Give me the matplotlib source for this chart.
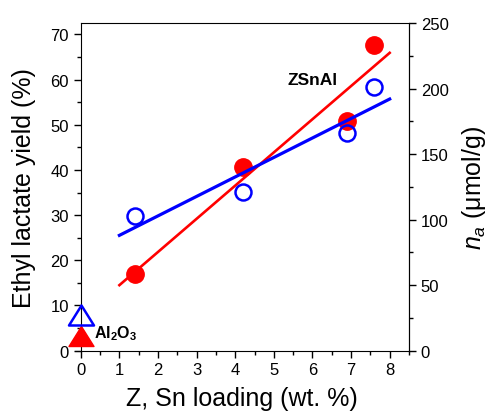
import matplotlib
matplotlib.use('Agg')
import matplotlib.pyplot as plt
from matplotlib.path import Path
from matplotlib.ticker import MultipleLocator

plt.rcParams['font.family'] = ['Liberation Sans', 'DejaVu Sans']
plt.rcParams['mathtext.fontset'] = 'custom'
plt.rcParams['mathtext.it'] = 'Liberation Sans:italic'
plt.rcParams['mathtext.rm'] = 'Liberation Sans'
plt.rcParams['mathtext.bf'] = 'Liberation Sans:bold'

# --- data
sn_loading = [1.4, 4.2, 6.9, 7.6]
yield_el = [17.0, 40.6, 50.9, 67.7]      # left axis, %
n_a = [103, 121, 166, 201]               # right axis, umol/g
al2o3_x = [0]
al2o3_yield = [3.2]
al2o3_na = [27]
fit_x = [1, 8]
fit_yield = [14.5, 65.9]
fit_na = [88, 192]

fig = plt.figure(figsize=(4.92, 4.14), dpi=100)
ax = fig.add_axes([0.1524, 0.1505, 0.6789, 0.7915])
ax2 = ax.twinx()

red = '#ff0000'
blue = '#0000ff'
# flat closed triangle like the original
tri = Path([(0, 0.8), (-1, -0.8), (1, -0.8), (0, 0.8)],
           [Path.MOVETO, Path.LINETO, Path.LINETO, Path.CLOSEPOLY])

ax.plot(fit_x, fit_yield, color=red, lw=1.9, zorder=2)
ax.plot(sn_loading, yield_el, 'o', color=red, ms=12.5, zorder=3)
ax.plot(al2o3_x, al2o3_yield, marker=tri, ls='none', color=red, ms=18, zorder=3, clip_on=False)

ax2.plot(fit_x, fit_na, color=blue, lw=2.3, zorder=2)
ax2.plot(sn_loading, n_a, 'o', mfc='none', mec=blue, mew=1.8, ms=11.5, zorder=3)
ax2.plot(al2o3_x, al2o3_na, marker=tri, ls='none', mfc='none', mec=blue, mew=1.8, ms=18,
         zorder=3, clip_on=False)

ax.set_xlim(-0.15, 8.5)
ax.set_ylim(0, 72.5)
ax2.set_ylim(0, 250)

ax.spines['left'].set_position(('data', 0))
ax.spines['top'].set_bounds(0, 8.5)
ax2.spines['left'].set_visible(False)
ax2.spines['top'].set_visible(False)
ax2.spines['bottom'].set_visible(False)

ax.xaxis.set_major_locator(MultipleLocator(1))
ax.xaxis.set_minor_locator(MultipleLocator(0.5))
ax.yaxis.set_major_locator(MultipleLocator(10))
ax.yaxis.set_minor_locator(MultipleLocator(5))
ax2.yaxis.set_major_locator(MultipleLocator(50))
ax2.yaxis.set_minor_locator(MultipleLocator(25))

for a in (ax, ax2):
    a.tick_params(which='major', direction='out', length=5, width=1, labelsize=12)
    a.tick_params(which='minor', direction='out', length=3, width=1)
ax.tick_params(top=False, which='both')

ax.set_xlabel('Z, Sn loading (wt. %)', fontsize=18, labelpad=6)
ax.set_ylabel('Ethyl lactate yield (%)', fontsize=18, labelpad=10)
ax2.set_ylabel('$n_a$ (μmol/g)', fontsize=18, labelpad=8)

ax.text(6.0, 60.1, 'ZSnAl', fontsize=12.5, fontweight='bold', ha='center', va='center')
ax.text(0.33, 4.1, r'Al$_\mathbf{2}$O$_\mathbf{3}$', fontsize=11.5, fontweight='bold',
        ha='left', va='center')

fig.savefig('out.png', dpi=100)
